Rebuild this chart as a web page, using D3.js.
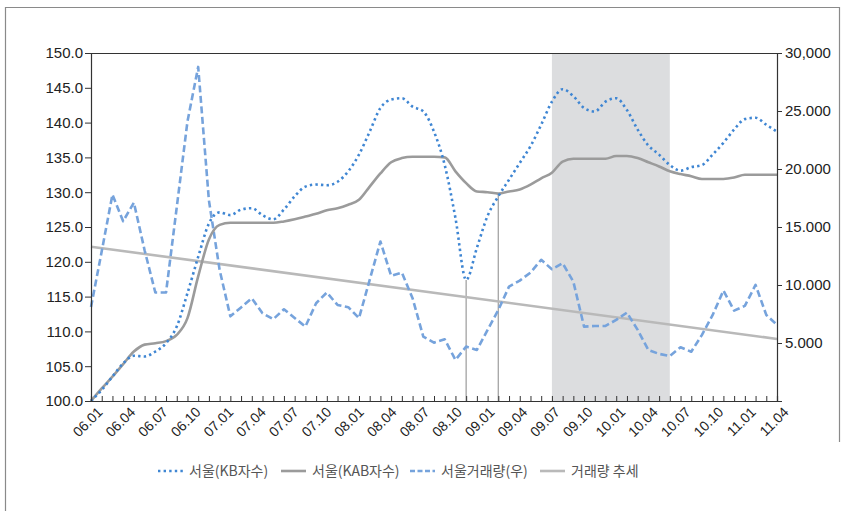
<!DOCTYPE html>
<html>
<head>
<meta charset="utf-8">
<script src="https://cdn.jsdelivr.net/npm/d3@7"></script>
<style>
  html, body { margin: 0; padding: 0; background: #fff; }
  svg { display: block; }
  .tick text { font-family: "Liberation Sans", Arial, sans-serif; fill: #222; }
</style>
</head>
<body>
<svg id="chart" width="857" height="511"></svg>
<script>
// Monthly observations, 2006.01 – 2011.05
const months = [
  '06.01','06.02','06.03','06.04','06.05','06.06','06.07','06.08','06.09','06.10','06.11','06.12',
  '07.01','07.02','07.03','07.04','07.05','07.06','07.07','07.08','07.09','07.10','07.11','07.12',
  '08.01','08.02','08.03','08.04','08.05','08.06','08.07','08.08','08.09','08.10','08.11','08.12',
  '09.01','09.02','09.03','09.04','09.05','09.06','09.07','09.08','09.09','09.10','09.11','09.12',
  '10.01','10.02','10.03','10.04','10.05','10.06','10.07','10.08','10.09','10.10','10.11','10.12',
  '11.01','11.02','11.03','11.04','11.05'
];

// Axis labels
const tickLabels = ['06.01','06.04','06.07','06.10','07.01','07.04','07.07','07.10','08.01','08.04','08.07',
  '08.10','09.01','09.04','09.07','09.10','10.01','10.04','10.07','10.10','11.01','11.04'];
const leftTicks = [100,105,110,115,120,125,130,135,140,145,150];
const rightTicks = [5000,10000,15000,20000,25000,30000];
const rightTickText = ['5.000','10.000','15.000','20.000','25.000','30,000'];

// 서울(KB자수) – price index, left axis
const kbIndex = [
  100.0,101.6,103.5,105.4,106.5,106.4,107.1,108.3,110.7,115.5,120.7,125.5,
  127.1,126.7,127.5,127.7,126.7,126.1,127.5,129.4,130.8,131.1,131.0,131.5,
  133.0,135.4,138.7,142.1,143.3,143.5,142.3,141.6,138.7,133.9,126.3,117.4,
  122.0,126.6,129.4,131.8,134.2,136.6,139.7,143.0,144.8,143.8,142.1,141.6,
  143.0,143.5,141.8,139.0,136.7,135.4,133.9,133.1,133.6,133.9,135.4,137.1,
  139.0,140.5,140.7,139.7,138.7
];

// 서울(KAB자수) – price index, left axis
const kabIndex = [
  100.0,101.8,103.5,105.3,107.1,108.1,108.3,108.6,109.5,111.9,117.9,123.2,
  125.3,125.6,125.6,125.6,125.6,125.6,125.8,126.1,126.5,126.9,127.4,127.7,
  128.2,128.9,130.8,132.7,134.3,134.9,135.1,135.1,135.1,135.0,133.0,131.3,
  130.1,130.0,129.8,130.1,130.4,131.1,132.0,132.8,134.4,134.8,134.8,134.8,
  134.8,135.2,135.2,134.9,134.3,133.7,133.0,132.6,132.3,131.9,131.9,131.9,
  132.1,132.5,132.5,132.5,132.5
];

// 서울거래량(우) – transaction volume, right axis
const volume = [
  8100,12900,17800,15500,17100,13000,9350,9350,16700,24100,28800,17300,
  11300,7300,8070,8860,7570,7050,7910,7160,6410,8430,9350,8280,
  8090,7140,10440,13750,10790,11070,8860,5550,5030,5320,3540,4690,
  4400,6130,7850,9860,10380,11070,12170,11360,11880,10290,6410,6470,
  6470,6990,7620,6130,4400,4060,3880,4630,4250,5700,7420,9520,
  7790,8200,10010,7420,6560
];

// 거래량 추세 – linear trend of the volume, end values
const trendMonths = ['06.01','11.05'];
const trendValues = [13300, 5350];

// Highlighted period and reference markers
const shadeRange = ['09.08','10.07'];
const markerMonths = ['08.12','09.03'];
const markerSeries = ['kb','kab'];

const legendNames = ['서울(KB자수)','서울(KAB자수)','서울거래량(우)','거래량 추세'];

const colors = { kb: '#3f86d3', kab: '#9b9b9b', vol: '#76a3dc', trend: '#b9b9b9' };

const svg = d3.select('#chart');
const L = 91, R = 777, T = 53, B = 401;

const x = d3.scalePoint().domain(months).range([L, R]);
const xLab = d3.scalePoint().domain(tickLabels).range([L, R]);
const yL = d3.scaleLinear().domain([100, 150]).range([B, T]);
const yR = d3.scaleLinear().domain([0, 30000]).range([B, T]);

// outer frame
svg.append('path')
  .attr('d', `M5.5,511 V7.5 H839.5 V442`)
  .attr('fill', 'none').attr('stroke', '#8a8a8a').attr('stroke-width', 1.2);

// shaded period
svg.append('rect')
  .attr('x', x(shadeRange[0])).attr('y', T)
  .attr('width', x(shadeRange[1]) - x(shadeRange[0])).attr('height', B - T)
  .attr('fill', '#dcdddf');

// vertical markers
const seriesByKey = { kb: kbIndex, kab: kabIndex };
markerMonths.forEach((m, i) => {
  const v = seriesByKey[markerSeries[i]][months.indexOf(m)];
  svg.append('line')
    .attr('x1', x(m)).attr('x2', x(m))
    .attr('y1', yL(v)).attr('y2', B)
    .attr('stroke', '#a9a9a9').attr('stroke-width', 1.4);
});

// trend line
svg.append('path')
  .datum(trendMonths.map((m, i) => [m, trendValues[i]]))
  .attr('d', d3.line().x(d => x(d[0])).y(d => yR(d[1])))
  .attr('fill', 'none').attr('stroke', colors.trend).attr('stroke-width', 2.6);

// transaction volume
svg.append('path')
  .datum(volume)
  .attr('d', d3.line().x((d, i) => x(months[i])).y(d => yR(d)))
  .attr('fill', 'none').attr('stroke', colors.vol).attr('stroke-width', 2.6)
  .attr('stroke-dasharray', '7,3.5').attr('stroke-linejoin', 'round');

// KAB index
svg.append('path')
  .datum(kabIndex)
  .attr('d', d3.line().curve(d3.curveMonotoneX).x((d, i) => x(months[i])).y(d => yL(d)))
  .attr('fill', 'none').attr('stroke', colors.kab).attr('stroke-width', 2.6);

// KB index
svg.append('path')
  .datum(kbIndex)
  .attr('d', d3.line().curve(d3.curveMonotoneX).x((d, i) => x(months[i])).y(d => yL(d)))
  .attr('fill', 'none').attr('stroke', colors.kb).attr('stroke-width', 2.6)
  .attr('stroke-dasharray', '2.4,3.2');

// plot frame top
svg.append('line').attr('x1', L).attr('x2', R).attr('y1', T + 0.5).attr('y2', T + 0.5)
  .attr('stroke', '#333').attr('stroke-width', 1.2);

// left axis
const gL = svg.append('g').attr('transform', `translate(${L},0)`)
  .call(d3.axisLeft(yL).tickValues(leftTicks).tickFormat(d3.format('.1f')).tickSize(6).tickPadding(2));
gL.selectAll('text').style('font-size', '15px');

// right axis
const gR = svg.append('g').attr('transform', `translate(${R},0)`)
  .call(d3.axisRight(yR).tickValues(rightTicks).tickFormat((d, i) => rightTickText[i]).tickSize(5).tickPadding(3));
gR.selectAll('text').style('font-size', '15px');

// bottom axis: monthly ticks
const gB = svg.append('g').attr('transform', `translate(0,${B})`)
  .call(d3.axisBottom(x).tickSize(-5).tickFormat(''));

// bottom axis labels
const gBL = svg.append('g').attr('transform', `translate(0,${B})`)
  .call(d3.axisBottom(xLab).tickSize(0).tickPadding(0));
gBL.select('.domain').remove();
gBL.selectAll('text')
  .style('font-size', '14px')
  .attr('text-anchor', 'end')
  .attr('y', 0).attr('dy', 0)
  .attr('transform', 'translate(12,12) rotate(-45)');

[gL, gR, gB].forEach(g => {
  g.selectAll('.domain').attr('stroke', '#333').attr('stroke-width', 1.2);
  g.selectAll('.tick line').attr('stroke', '#333');
});

// legend
const legendX = [158, 281, 410, 540];
const legendStyle = [
  { c: colors.kb, dash: '2.4,3.2' },
  { c: colors.kab, dash: null },
  { c: colors.vol, dash: '5,2.5' },
  { c: colors.trend, dash: null }
];
const lg = svg.append('g').attr('transform', 'translate(0,471)');
legendNames.forEach((name, i) => {
  const g = lg.append('g').attr('transform', `translate(${legendX[i]},0)`);
  g.append('line').attr('x1', 0).attr('x2', 25).attr('y1', 0).attr('y2', 0)
    .attr('stroke', legendStyle[i].c).attr('stroke-width', 2.6)
    .attr('stroke-dasharray', legendStyle[i].dash);
  g.append('text').attr('x', 31).attr('y', 5)
    .attr('font-family', '"Noto Sans CJK KR", "Noto Sans", sans-serif')
    .attr('font-size', 14).attr('fill', '#555').text(name);
});
</script>
</body>
</html>
